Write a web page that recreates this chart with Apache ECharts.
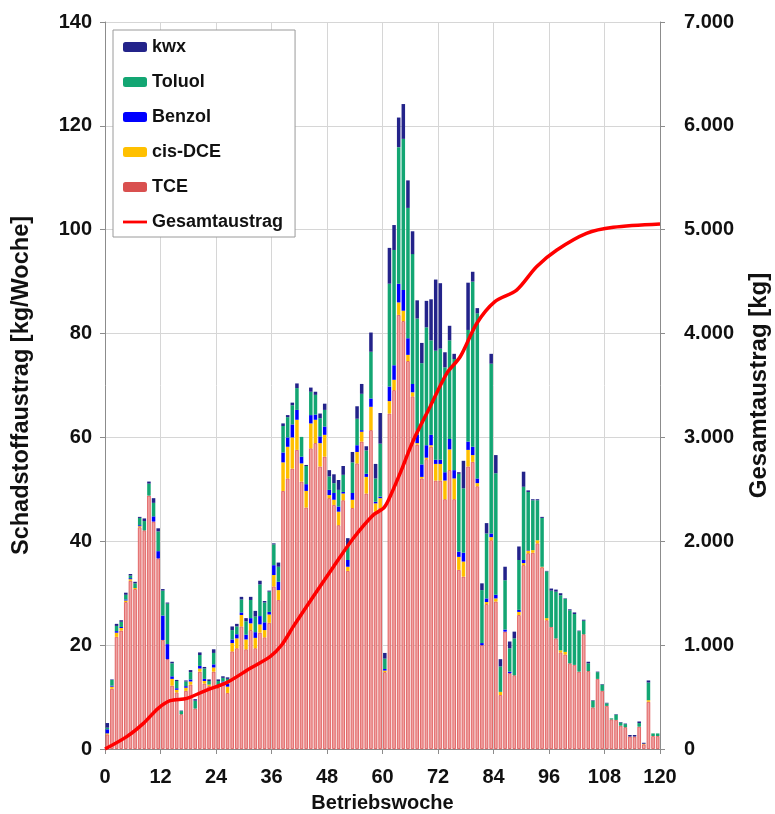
<!DOCTYPE html>
<html>
<head>
<meta charset="utf-8">
<title>Schadstoffaustrag</title>
<script src="https://cdn.jsdelivr.net/npm/echarts@6/dist/echarts.min.js"></script>
<style>
  html, body { margin: 0; padding: 0; background: #fff; }
  #chart { width: 775px; height: 814px; }
</style>
</head>
<body>
<div id="chart"></div>
<script>
// weekly loads [kg/Woche], one entry per Betriebswoche 1..120
const weeks = Array.from({ length: 120 }, (_, i) => String(i + 1));

const tce = [
  2.8, 11.6, 21.6, 22.8, 28.3, 32.4, 30.8, 42.7, 42.1, 48.8,
  43.8, 36.7, 21.0, 17.3, 12.2, 10.9, 6.7, 11.2, 12.4, 7.8,
  14.9, 12.6, 12.1, 14.9, 11.8, 12.6, 10.8, 18.8, 19.4, 23.6,
  19.2, 22.9, 19.4, 22.4, 21.5, 24.3, 31.3, 28.7, 49.7, 52.1,
  54.0, 57.6, 51.5, 46.5, 57.9, 58.9, 54.4, 56.3, 48.3, 47.0,
  43.1, 47.9, 34.3, 46.4, 55.0, 59.2, 49.2, 61.4, 45.7, 46.4,
  14.8, 64.6, 69.1, 83.6, 82.4, 74.7, 67.9, 58.6, 52.1, 55.8,
  58.2, 51.7, 51.7, 48.1, 53.7, 48.1, 34.5, 33.2, 54.4, 55.3,
  50.6, 20.0, 27.9, 40.2, 28.4, 10.4, 22.6, 14.6, 14.2, 25.8,
  35.4, 37.7, 37.8, 39.6, 35.0, 24.8, 23.5, 21.3, 18.6, 18.2,
  16.5, 16.2, 14.9, 22.1, 15.0, 8.0, 13.5, 11.2, 8.3, 5.7,
  5.6, 4.5, 4.2, 2.4, 2.4, 4.3, 0.9, 9.1, 2.5, 2.5
];
const cisDce = [
  0.2, 0.4, 0.8, 0.5, 0.3, 0.3, 0.2, 0.2, 0, 0,
  0, 0, 0, 0, 1.3, 0.5, 0, 0.6, 0.6, 0,
  0.6, 0.5, 0.3, 0.8, 0.5, 0.2, 1.2, 1.6, 1.9, 2.2,
  1.9, 1.3, 2.0, 1.6, 1.4, 1.6, 2.2, 1.9, 5.5, 6.1,
  6.0, 5.8, 3.5, 3.2, 4.8, 4.5, 4.5, 4.2, 0.6, 1.0,
  2.6, 1.3, 0.8, 1.6, 2.2, 1.9, 3.2, 4.5, 1.6, 1.9,
  0.3, 2.4, 2.0, 2.4, 2.0, 1.2, 0.8, 0.3, 0.3, 0.3,
  0.3, 3.2, 3.2, 3.6, 4.0, 4.0, 2.5, 2.9, 3.2, 1.3,
  0.6, 0, 0.4, 0.6, 0.6, 0.6, 0, 0, 0, 0.6,
  0.4, 0.5, 0.5, 0.6, 0.1, 0.4, 0, 0, 0.4, 0.5,
  0, 0, 0, 0, 0, 0, 0, 0, 0, 0,
  0, 0, 0, 0, 0, 0, 0.1, 0.3, 0, 0
];
const benzol = [
  0.8, 0.2, 0.3, 0.2, 0.2, 0.2, 0, 0.2, 0, 0,
  1.0, 1.4, 4.7, 2.9, 0.5, 0.3, 0, 0.3, 0.4, 0,
  0.5, 0.4, 0, 0.6, 0, 0.2, 0.6, 0.7, 0.8, 0.5,
  0.9, 1.0, 1.1, 1.6, 1.5, 0.5, 1.9, 1.6, 1.9, 1.8,
  2.5, 1.9, 1.3, 1.3, 1.6, 1.0, 1.3, 1.6, 1.0, 1.3,
  1.0, 0.3, 1.3, 1.3, 1.3, 0.3, 0.6, 1.6, 0.3, 0.3,
  0.3, 2.8, 2.8, 3.6, 4.0, 3.2, 1.6, 1.6, 2.4, 2.4,
  2.0, 0.8, 0.8, 1.6, 2.0, 1.6, 1.0, 1.7, 1.6, 1.6,
  0.9, 0.4, 0.7, 0.7, 0.7, 0, 0.4, 0.3, 0, 0.4,
  0.6, 0.1, 0, 0, 0, 0, 0, 0, 0, 0,
  0, 0, 0, 0, 0, 0, 0, 0, 0, 0,
  0, 0, 0, 0, 0, 0, 0, 0, 0, 0
];
const toluol = [
  0.3, 1.1, 1.0, 1.0, 0.9, 0.5, 0.9, 1.4, 1.8, 2.3,
  2.6, 3.8, 4.8, 7.8, 2.5, 1.4, 0.6, 0.9, 1.4, 1.5,
  2.1, 2.0, 0.7, 2.2, 0.8, 0.7, 0.9, 1.8, 1.5, 2.5,
  2.6, 3.5, 3.0, 6.1, 3.8, 3.9, 4.0, 2.9, 5.1, 3.9,
  3.7, 4.2, 3.8, 3.5, 4.5, 3.8, 3.5, 3.2, 2.6, 1.9,
  3.2, 3.3, 2.6, 5.9, 5.1, 7.0, 4.5, 9.0, 4.5, 10.2,
  2.0, 19.8, 22.2, 26.3, 29.1, 25.1, 25.0, 22.4, 19.5, 22.7,
  18.2, 21.0, 21.4, 20.2, 19.0, 21.4, 15.0, 12.4, 21.5, 31.8,
  31.8, 10.2, 12.5, 32.7, 23.4, 4.9, 9.5, 4.5, 7.1, 9.6,
  14.1, 11.2, 9.6, 7.7, 9.4, 9.0, 7.0, 9.0, 10.6, 10.2,
  10.2, 9.8, 7.8, 2.6, 1.5, 1.3, 1.3, 1.2, 0.5, 0.2,
  1.0, 0.6, 0.6, 0, 0, 0.7, 0, 3.4, 0.5, 0.5
];
const kwx = [
  0.9, 0.1, 0.4, 0.3, 0.4, 0.3, 0.3, 0.2, 0.5, 0.4,
  0.9, 0.6, 0.3, 0.2, 0.3, 0.2, 0.1, 0.2, 0.4, 0.3,
  0.5, 0.3, 0.3, 0.7, 0.3, 0.3, 0.3, 0.7, 0.5, 0.5,
  0.6, 0.6, 1.1, 0.7, 0.3, 0.2, 0.2, 0.8, 0.5, 0.4,
  0.5, 0.9, 0, 0.2, 0.8, 0.6, 0.9, 1.2, 1.2, 1.7,
  1.9, 1.7, 1.6, 2.0, 2.4, 1.9, 0.8, 3.7, 2.8, 5.9,
  1.1, 6.9, 4.8, 5.7, 6.7, 5.3, 4.4, 3.5, 3.9, 5.1,
  7.9, 13.7, 12.6, 2.9, 2.8, 1.0, 0.3, 5.3, 9.1, 1.9,
  1.0, 1.3, 2.0, 1.9, 3.5, 1.4, 2.6, 1.3, 1.3, 2.6,
  2.9, 0.3, 0.2, 0.2, 0.2, 0.1, 0.4, 0.4, 0.4, 0.1,
  0.2, 0.3, 0.1, 0.2, 0.3, 0.1, 0.1, 0.1, 0.1, 0,
  0.1, 0.1, 0.1, 0.3, 0.3, 0.3, 0.2, 0.4, 0, 0
];

// cumulative load [kg]
const gesamtWeeks = [0, 4.7, 8.3, 11.5, 14.1, 17.7, 22, 26.3, 31.4, 35.7, 38.2, 40.7, 45, 49.4, 53.7, 58, 60.2, 61.3, 63.8, 66.7, 70.3, 73.9, 76.8, 80.4, 84.3, 89, 93.3, 97.7, 104.1, 109.9, 120];
const gesamtValues = [0, 119, 247, 392, 465, 488, 568, 639, 777, 889, 1001, 1178, 1466, 1755, 2029, 2253, 2317, 2397, 2654, 2975, 3296, 3617, 3777, 4099, 4307, 4419, 4644, 4805, 4965, 5023, 5055];

const font = 'Liberation Sans, Arial, sans-serif';

function formatThousands(v) {
  if (v < 1000) return String(v);
  return Math.floor(v / 1000) + '.' + String(v % 1000).padStart(3, '0');
}

let chart = echarts.init(document.getElementById('chart'));

function barSeries(name, data, color, extra) {
  return Object.assign({
    name: name,
    type: 'bar',
    stack: 'load',
    xAxisIndex: 0,
    yAxisIndex: 0,
    barWidth: '76%',
    data: data,
    itemStyle: { color: color },
    emphasis: { disabled: true }
  }, extra || {});
}

let option = {
  animation: false,
  textStyle: { fontFamily: font },
  grid: { left: 105, right: 115, top: 22, bottom: 65, outerBoundsMode: 'none' },
  legend: {
    data: [
      { name: 'kwx' },
      { name: 'Toluol' },
      { name: 'Benzol' },
      { name: 'cis-DCE' },
      { name: 'TCE', itemStyle: { color: '#d9504f', borderWidth: 0 } },
      { name: 'Gesamtaustrag', icon: 'path://M0,0 M0,3.6 L24,3.6 L24,6.4 L0,6.4 Z M24,10' }
    ],
    orient: 'vertical',
    left: 113,
    top: 30,
    padding: [8, 12, 6, 10],
    itemWidth: 24,
    itemHeight: 10,
    itemGap: 17,
    backgroundColor: '#fff',
    borderColor: '#9a9a9a',
    borderWidth: 1,
    borderRadius: 0,
    textStyle: { fontFamily: font, fontSize: 18, fontWeight: 'bold', color: '#111', lineHeight: 18 }
  },
  xAxis: [
    {
      type: 'category',
      data: weeks,
      show: false,
      boundaryGap: true
    },
    {
      type: 'value',
      min: 0,
      max: 120,
      interval: 12,
      position: 'bottom',
      name: 'Betriebswoche',
      nameLocation: 'middle',
      nameGap: 44,
      nameTextStyle: { fontFamily: font, fontSize: 20, fontWeight: 'bold', color: '#111' },
      axisLine: { show: true, lineStyle: { color: '#8c8c8c', width: 1 } },
      axisTick: { show: true, length: 5, lineStyle: { color: '#8c8c8c' } },
      axisLabel: { margin: 18, fontFamily: font, fontSize: 20, fontWeight: 'bold', color: '#111' },
      splitLine: { show: true, lineStyle: { color: '#d6d6d6', width: 1 } }
    }
  ],
  yAxis: [
    {
      type: 'value',
      min: 0,
      max: 140,
      interval: 20,
      position: 'left',
      name: 'Schadstoffaustrag [kg/Woche]',
      nameLocation: 'middle',
      nameRotate: 90,
      nameGap: 71,
      nameTextStyle: { fontFamily: font, fontSize: 23.5, fontWeight: 'bold', color: '#111' },
      axisLine: { show: true, lineStyle: { color: '#8c8c8c', width: 1 } },
      axisTick: { show: true, length: 5, lineStyle: { color: '#8c8c8c' } },
      axisLabel: { margin: 13, fontFamily: font, fontSize: 20, fontWeight: 'bold', color: '#111' },
      splitLine: { show: true, lineStyle: { color: '#d6d6d6', width: 1 } }
    },
    {
      type: 'value',
      min: 0,
      max: 7000,
      interval: 1000,
      position: 'right',
      name: 'Gesamtaustrag [kg]',
      nameLocation: 'middle',
      nameRotate: 90,
      nameGap: 87,
      nameTextStyle: { fontFamily: font, fontSize: 24, fontWeight: 'bold', color: '#111' },
      axisLine: { show: true, lineStyle: { color: '#8c8c8c', width: 1 } },
      axisTick: { show: true, length: 5, lineStyle: { color: '#8c8c8c' } },
      axisLabel: { margin: 24, fontFamily: font, fontSize: 20, fontWeight: 'bold', color: '#111', formatter: formatThousands },
      splitLine: { show: false }
    }
  ],
  series: [
    barSeries('TCE', tce, '#f0a2a2', {
      itemStyle: { color: '#f0a2a2', borderColor: '#dc4e4e', borderWidth: 0.8 }
    }),
    barSeries('cis-DCE', cisDce, '#ffc000'),
    barSeries('Benzol', benzol, '#0000ff'),
    barSeries('Toluol', toluol, '#13a673'),
    barSeries('kwx', kwx, '#23238a'),
    {
      name: 'Gesamtaustrag',
      type: 'line',
      xAxisIndex: 1,
      yAxisIndex: 1,
      smooth: 0.3,
      symbol: 'none',
      z: 10,
      lineStyle: { color: '#ff0000', width: 3.5 },
      itemStyle: { color: '#ff0000' },
      data: gesamtWeeks.map((w, i) => [w, gesamtValues[i]])
    }
  ]
};

chart.setOption(option);
</script>
</body>
</html>
